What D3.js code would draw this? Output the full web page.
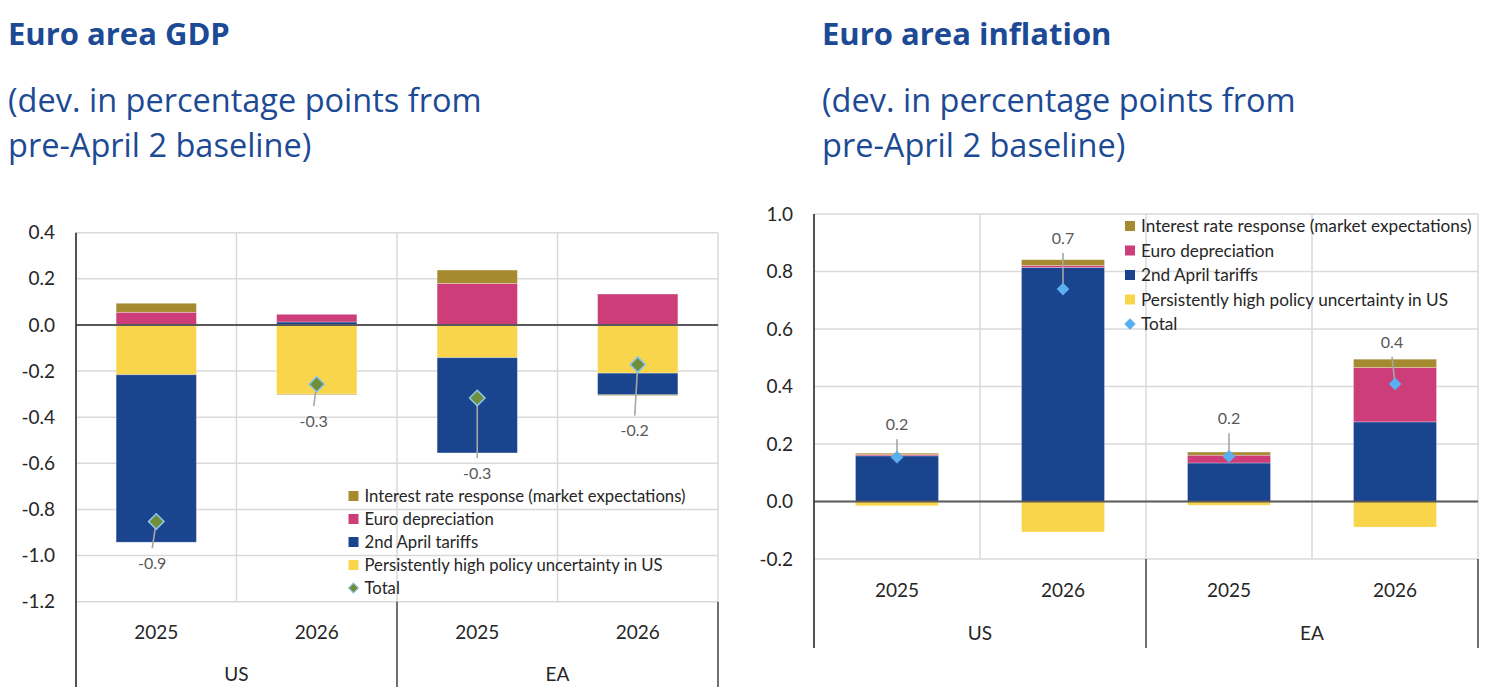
<!DOCTYPE html>
<html>
<head>
<meta charset="utf-8">
<script src="https://cdn.jsdelivr.net/npm/d3@7"></script>
<style>
  body { margin: 0; background: #fff; }
  svg text { font-family: Lato, "Open Sans", sans-serif; }
  svg text.title { font-family: "Open Sans", Lato, sans-serif; }
</style>
</head>
<body>
<svg id="chart"></svg>
<script>
// categories
const groups = ["US", "EA"];
const years = ["2025", "2026"];
const seriesKeys = ["uncertainty", "tariffs", "euro", "interest"];   // stacking order
const legendNames = [
  "Interest rate response (market expectations)",
  "Euro depreciation",
  "2nd April tariffs",
  "Persistently high policy uncertainty in US",
  "Total"
];

// GDP panel (US 2025, US 2026, EA 2025, EA 2026)
const gdpInterest    = [0.039, -0.003, 0.058, -0.003];
const gdpEuro        = [0.055, 0.033, 0.180, 0.134];
const gdpTariffs     = [-0.726, 0.013, -0.413, -0.094];
const gdpUncertainty = [-0.216, -0.300, -0.142, -0.209];
const gdpTotal       = [-0.852, -0.257, -0.317, -0.172];
const gdpLabels      = ["-0.9", "-0.3", "-0.3", "-0.2"];
const gdpTicks       = [-1.2, -1.0, -0.8, -0.6, -0.4, -0.2, 0.0, 0.2, 0.4];

// inflation panel
const infInterest    = [0.005, 0.020, 0.011, 0.029];
const infEuro        = [0.004, 0.007, 0.027, 0.189];
const infTariffs     = [0.159, 0.814, 0.134, 0.277];
const infUncertainty = [-0.015, -0.106, -0.013, -0.089];
const infTotal       = [0.154, 0.739, 0.157, 0.409];
const infLabels      = ["0.2", "0.7", "0.2", "0.4"];
const infTicks       = [-0.2, 0.0, 0.2, 0.4, 0.6, 0.8, 1.0];

const colors = {
  interest: "#a68a30",
  euro: "#cc3d79",
  tariffs: "#1a448e",
  uncertainty: "#f8d54a"
};
const legendColors = [colors.interest, colors.euro, colors.tariffs, colors.uncertainty];
const titleColor = "#1c4a94";

const svg = d3.select("#chart").attr("width", 1492).attr("height", 698);

function drawPanel(cfg) {
  const g = svg.append("g");
  const cats = [];
  groups.forEach(gr => years.forEach(y => cats.push(gr + "-" + y)));

  const rows = cats.map((c, i) => ({
    cat: c,
    interest: cfg.interest[i],
    euro: cfg.euro[i],
    tariffs: cfg.tariffs[i],
    uncertainty: cfg.uncertainty[i]
  }));

  // titles
  g.append("text").attr("class", "title").attr("x", cfg.titleX).attr("y", 45)
    .attr("fill", titleColor).attr("font-weight", "bold").style("font-size", "31px")
    .text(cfg.title);
  g.append("text").attr("class", "title").attr("x", cfg.titleX).attr("y", 112)
    .attr("fill", titleColor).style("font-size", "32.5px")
    .text("(dev. in percentage points from");
  g.append("text").attr("class", "title").attr("x", cfg.titleX).attr("y", 157)
    .attr("fill", titleColor).style("font-size", "32.5px")
    .text("pre-April 2 baseline)");

  const x = d3.scaleBand().domain(cats).range([cfg.left, cfg.right]).paddingInner(0).paddingOuter(0);
  const xGroup = d3.scaleBand().domain(groups).range([cfg.left, cfg.right]);
  const y = d3.scaleLinear().domain(cfg.domain).range([cfg.bottom, cfg.top]);

  // gridlines
  g.append("g").selectAll("line").data(cfg.ticks).join("line")
    .attr("x1", cfg.left).attr("x2", cfg.right)
    .attr("y1", d => y(d)).attr("y2", d => y(d))
    .attr("stroke", "#d9d9d9").attr("stroke-width", 1.5);
  g.append("g").selectAll("line").data(cats.slice(1).concat(["end"])).join("line")
    .attr("x1", d => d === "end" ? cfg.right : x(d))
    .attr("x2", d => d === "end" ? cfg.right : x(d))
    .attr("y1", cfg.top).attr("y2", cfg.bottom)
    .attr("stroke", "#d9d9d9").attr("stroke-width", 1.5);

  // y axis labels
  const yAxis = d3.axisLeft(y).tickValues(cfg.ticks).tickSize(0).tickPadding(21)
    .tickFormat(d => d.toFixed(1));
  const ya = g.append("g").attr("transform", `translate(${cfg.left},0)`).call(yAxis);
  ya.select(".domain").remove();
  ya.selectAll("text").style("font-size", "19px").attr("fill", "#262626")
    .style("font-family", "Lato, sans-serif");

  // stacked bars
  const stack = d3.stack().keys(seriesKeys).offset(d3.stackOffsetDiverging);
  const layers = stack(rows);
  const bw = x.bandwidth() * 0.5;
  g.append("g").selectAll("g").data(layers).join("g")
    .attr("fill", d => colors[d.key])
    .selectAll("rect").data(d => d).join("rect")
      .attr("x", d => x(d.data.cat) + (x.bandwidth() - bw) / 2)
      .attr("y", d => y(Math.max(d[0], d[1])))
      .attr("width", bw)
      .attr("height", d => Math.abs(y(d[0]) - y(d[1])))
      .attr("stroke", "#ffffff").attr("stroke-opacity", 0.35).attr("stroke-width", 0.8);

  // zero line
  g.append("line").attr("x1", cfg.left).attr("x2", cfg.right)
    .attr("y1", y(0)).attr("y2", y(0))
    .attr("stroke", "#595959").attr("stroke-width", 2);

  // left axis line + category separators
  g.append("line").attr("x1", cfg.left).attr("x2", cfg.left)
    .attr("y1", cfg.top).attr("y2", cfg.axisBottom)
    .attr("stroke", "#404040").attr("stroke-width", 1.8);
  g.append("g").selectAll("line").data(groups.slice(1).concat(["end"])).join("line")
    .attr("x1", d => d === "end" ? cfg.right : xGroup(d))
    .attr("x2", d => d === "end" ? cfg.right : xGroup(d))
    .attr("y1", cfg.bottom).attr("y2", cfg.axisBottom)
    .attr("stroke", "#404040").attr("stroke-width", 1.5);

  // category labels
  const xAxis = d3.axisBottom(x).tickSize(0).tickPadding(0).tickFormat(d => d.split("-")[1]);
  const xa = g.append("g").attr("transform", `translate(0,${cfg.yearY})`).call(xAxis);
  xa.select(".domain").remove();
  xa.selectAll("text").style("font-size", "19px").attr("fill", "#262626")
    .style("font-family", "Lato, sans-serif");
  const gAxis = d3.axisBottom(xGroup).tickSize(0).tickPadding(0);
  const ga = g.append("g").attr("transform", `translate(0,${cfg.groupY})`).call(gAxis);
  ga.select(".domain").remove();
  ga.selectAll("text").style("font-size", "19px").attr("fill", "#262626")
    .style("font-family", "Lato, sans-serif");

  // totals: leader lines, labels, diamonds
  const tot = cats.map((c, i) => ({ cat: c, v: cfg.total[i], label: cfg.labels[i], off: cfg.labelOffsets[i] }));
  const cx = d => x(d.cat) + x.bandwidth() / 2;
  g.append("g").selectAll("line").data(tot).join("line")
    .attr("x1", d => cx(d)).attr("y1", d => y(d.v))
    .attr("x2", d => cx(d) + d.off[0]).attr("y2", d => y(d.v) + d.off[1] - Math.sign(d.off[1]) * 15)
    .attr("stroke", "#a6a6a6").attr("stroke-width", 1.6);
  g.append("g").selectAll("path").data(tot).join("path")
    .attr("d", d3.symbol(d3.symbolSquare, cfg.markerSize))
    .attr("transform", d => `translate(${cx(d)},${y(d.v)}) rotate(45)`)
    .attr("fill", cfg.markerFill).attr("stroke", cfg.markerStroke).attr("stroke-width", cfg.markerStrokeW);
  g.append("g").selectAll("text").data(tot).join("text")
    .attr("x", d => cx(d) + d.off[0]).attr("y", d => y(d.v) + d.off[1])
    .attr("dy", "0.35em").attr("text-anchor", "middle")
    .attr("fill", "#595959").style("font-size", "16px")
    .text(d => d.label);

  // legend
  const lg = g.append("g").attr("transform", `translate(${cfg.legendX},${cfg.legendY})`);
  const items = lg.selectAll("g").data(legendNames).join("g")
    .attr("transform", (d, i) => `translate(0,${i * cfg.legendStep})`);
  items.filter((d, i) => i < 4).append("rect")
    .attr("x", -5).attr("y", -5).attr("width", 10).attr("height", 10)
    .attr("fill", (d, i) => legendColors[i]);
  items.filter((d, i) => i === 4).append("path")
    .attr("d", d3.symbol(d3.symbolSquare, 50))
    .attr("transform", "rotate(45)")
    .attr("fill", cfg.markerFill).attr("stroke", cfg.markerStroke).attr("stroke-width", 1);
  items.append("text").attr("x", 11).attr("dy", "0.35em")
    .attr("fill", "#262626").style("font-size", cfg.legendFont)
    .text(d => d);
}

drawPanel({
  title: "Euro area GDP", titleX: 8,
  interest: gdpInterest, euro: gdpEuro, tariffs: gdpTariffs, uncertainty: gdpUncertainty,
  total: gdpTotal, labels: gdpLabels, ticks: gdpTicks,
  labelOffsets: [[-4, 42], [-3, 37], [0, 75], [-3, 66]],
  domain: [-1.2, 0.4], left: 76, right: 718, top: 232.7, bottom: 601.7, axisBottom: 687,
  yearY: 625, groupY: 667,
  markerSize: 120, markerFill: "#6f8f3a", markerStroke: "#8cc8f0", markerStrokeW: 1.5,
  legendX: 353.5, legendY: 496, legendStep: 23, legendFont: "16.7px"
});

drawPanel({
  title: "Euro area inflation", titleX: 822,
  interest: infInterest, euro: infEuro, tariffs: infTariffs, uncertainty: infUncertainty,
  total: infTotal, labels: infLabels, ticks: infTicks,
  labelOffsets: [[0, -33], [0, -51], [0, -38], [-3, -42]],
  domain: [-0.2, 1.0], left: 814, right: 1478, top: 214, bottom: 559, axisBottom: 648,
  yearY: 583, groupY: 626,
  markerSize: 75, markerFill: "#5aaff0", markerStroke: "#5aaff0", markerStrokeW: 0.5,
  legendX: 1130, legendY: 226, legendStep: 24.5, legendFont: "17.2px"
});
</script>
</body>
</html>
